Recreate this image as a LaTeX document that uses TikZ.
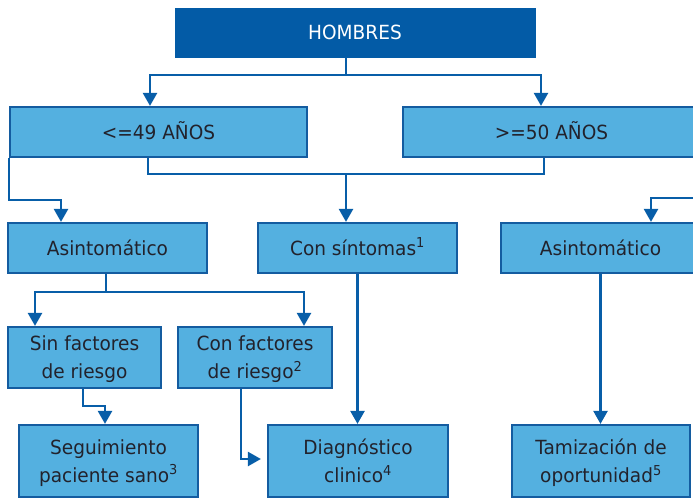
\documentclass[tikz,border=0pt]{standalone}
\usepackage{fontspec}
\setmainfont[FakeStretch=0.95]{DejaVu Sans}
\usepackage{xcolor}
\usetikzlibrary{arrows.meta,positioning,calc}

\definecolor{darkblue}{RGB}{3,91,166}
\definecolor{lightblue}{RGB}{84,176,224}
\definecolor{edgeblue}{RGB}{20,92,160}
\definecolor{lineblue}{RGB}{8,94,168}
\definecolor{textgray}{RGB}{34,34,44}

\begin{document}
\begin{tikzpicture}[x=1pt, y=-1pt,
    every node/.style={font=\fontsize{19.5}{28}\selectfont},
    topbox/.style={draw=darkblue, fill=darkblue, text=white, minimum width=360pt, minimum height=49pt, text height=14pt, text depth=0pt},
    onebox/.style={draw=edgeblue, line width=2.2pt, fill=lightblue, text=textgray, minimum height=50pt, text height=14pt, text depth=0pt},
    twobox/.style={draw=edgeblue, line width=2.2pt, fill=lightblue, text=textgray, align=center, text depth=0pt},
    line/.style={draw=lineblue, line width=2.4pt},
    arr/.style={line, -{Triangle[width=14pt,length=13pt]}}]

\useasboundingbox (0,0) rectangle (693,498);
\clip (0,0) rectangle (693,498);

% Title
\node[topbox] (hombres) at (355,32.5) {HOMBRES};

% Age groups
\node[onebox, minimum width=297pt] (menor) at (158.5,132) {<=49 AÑOS};
\node[onebox, minimum width=297pt] (mayor) at (551.5,132) {>=50 AÑOS};

% Symptoms
\node[onebox, minimum width=199pt] (asinA) at (107.5,248) {Asintomático};
\node[onebox, minimum width=199pt] (sintomas) at (357.5,248) {Con síntomas\textsuperscript{1}};
\node[onebox, minimum width=199pt] (asinB) at (600.5,248) {Asintomático};

% Risk factors
\node[twobox, minimum width=153pt, minimum height=61pt] (sinfac) at (84.5,357.5) {Sin factores\\de riesgo};
\node[twobox, minimum width=154pt, minimum height=61pt] (confac) at (255,357.5) {Con factores\\de riesgo\textsuperscript{2}};

% Actions
\node[twobox, minimum width=179pt, minimum height=72pt] (seguim) at (108.5,461) {Seguimiento\\paciente sano\textsuperscript{3}};
\node[twobox, minimum width=180pt, minimum height=72pt] (diagn) at (358,461) {Diagnóstico\\clinico\textsuperscript{4}};
\node[twobox, minimum width=178pt, minimum height=72pt] (tamiz) at (601,461) {Tamización de\\oportunidad\textsuperscript{5}};

% Hombres to age groups
\draw[line] ([xshift=-9pt]hombres.south) -- ++(0,18) coordinate (h1);
\draw[arr] (h1) -| ([xshift=-8.5pt]menor.north);
\draw[arr] (h1) -| ([xshift=-10.5pt]mayor.north);

% Age groups to symptoms
\draw[line] ([xshift=-10.5pt]menor.south) -- ++(0,16) coordinate (e1) -| ([xshift=-7.5pt]mayor.south);
\draw[arr] (e1 -| h1) -- (h1 |- sintomas.north);
\draw[arr] (menor.south west) -- ++(0,42) -| ([xshift=-46.5pt]asinA.north);
\draw[arr] (mayor.south east) -- ++(0,40) -| ([xshift=50.5pt]asinB.north);

% Asintomatico to risk factors
\draw[line] ([xshift=-1.5pt]asinA.south) -- ++(0,18) coordinate (a1);
\draw[arr] (a1) -| ([xshift=-49.5pt]sinfac.north);
\draw[arr] (a1) -| ([xshift=49pt]confac.north);

% Actions
\draw[arr] (sintomas.south) -- (sintomas.south |- diagn.north);
\draw[arr] (asinB.south) -- (asinB.south |- tamiz.north);
\draw[arr] ([xshift=-1.5pt]sinfac.south) -- ++(0,17) -| ([xshift=-3.5pt]seguim.north);
\draw[arr, shorten >=6pt] ([xshift=-14pt]confac.south) |- ([yshift=2pt]diagn.west);

\end{tikzpicture}
\end{document}
